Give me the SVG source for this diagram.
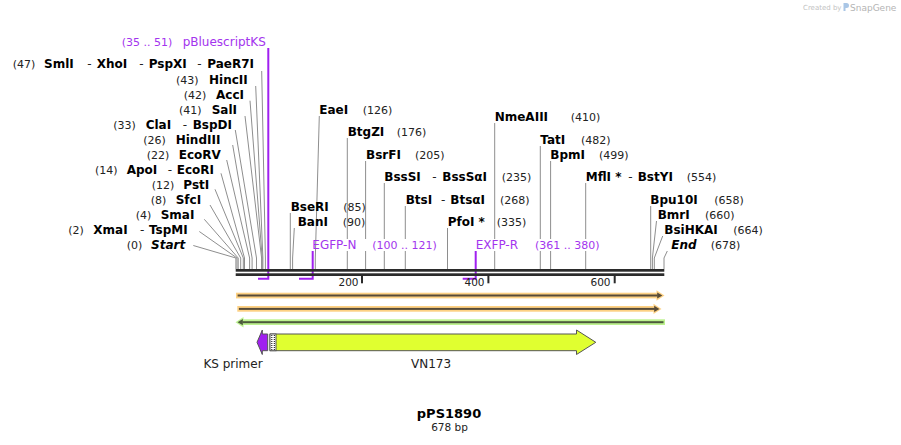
<svg xmlns="http://www.w3.org/2000/svg" width="901" height="445" viewBox="0 0 901 445">
<style>
text{font-family:"DejaVu Sans","Liberation Sans",sans-serif}
.n{font-size:12px;font-weight:bold;fill:#000}
.ni{font-size:12px;font-weight:bold;font-style:italic;fill:#000}
.p{font-size:11px;fill:#222}
.s{font-size:12px;fill:#222}
.f{font-size:12px;fill:#a334ee}
.fp{font-size:11px;fill:#a334ee}
.lbl{font-size:12px;fill:#222}
.tk{font-size:10.5px;fill:#222}
.cut{stroke:#8e8e8e;stroke-width:1;fill:none}
.fl{stroke:#a020f0;stroke-width:2;fill:none}
.bb{fill:#2b2b2b}
.ol{stroke:#555;stroke-width:1}
.bg{fill:#fff}
</style>
<rect width="901" height="445" fill="#fff"/>

<g id="watermark">
<text x="803" y="10" style="font-size:7px;fill:#c3c3c3">Created by</text>
<path d="M843.5,3 h3 a2.5,2.5 0 0 1 0,5 h-1 v3 h-2 z" fill="#a9c6e6"/>
<text x="850" y="10.5" style="font-size:9px;fill:#b4b4b4">SnapGene</text>
</g>

<g id="connectors">
<!-- left fan -->
<path class="cut" d="M261.7,71 L265.4,258 V269"/>
<path class="cut" d="M255.7,86 L262.9,258 V269"/>
<path class="cut" d="M250,100.7 L262.2,258 V269"/>
<path class="cut" d="M245,116 L261.6,258 V269"/>
<path class="cut" d="M235.3,130 L256.5,258 V269"/>
<path class="cut" d="M232.7,145 L252.1,258 V269"/>
<path class="cut" d="M226.7,160 L249.6,258 V269"/>
<path class="cut" d="M221,173.3 L244.5,258 V269"/>
<path class="cut" d="M215,189.3 L243.3,258 V269"/>
<path class="cut" d="M210,205 L240.7,258 V269"/>
<path class="cut" d="M204.3,219.3 L238.2,258 V269"/>
<path class="cut" d="M199.3,231.5 L237,258 V269"/>
<path class="cut" d="M193.3,245.5 L235.9,258 V269"/>
<!-- right -->
<path class="cut" d="M319.3,116 L315.3,258 V269"/>
<path class="cut" d="M347.3,138 V269"/>
<path class="cut" d="M365.6,161 V269"/>
<path class="cut" d="M384.3,183 V269"/>
<path class="cut" d="M405.3,206 V269"/>
<path class="cut" d="M447.5,228 V269"/>
<path class="cut" d="M290.3,213 V269"/>
<path class="cut" d="M294.3,228 L292.6,258 V269"/>
<path class="cut" d="M494.7,123 V269"/>
<path class="cut" d="M540.3,146 V269"/>
<path class="cut" d="M550.6,161 V269"/>
<path class="cut" d="M585.7,183 V269"/>
<path class="cut" d="M650.7,206 V269"/>
<path class="cut" d="M656.5,221 L652.4,258 V269"/>
<path class="cut" d="M662.7,236 L654.3,258 V269"/>
<path class="cut" d="M667.3,251 L664,258 V269"/>
<!-- primer feature leaders -->
<path class="fl" d="M268.3,48 V278.7 H258" stroke-width="1.6"/>
<path class="fl" d="M312.7,251 V278.7 H299"/>
<path class="fl" d="M475.7,251 V278.7 H462.7"/>
</g>

<g id="backbone">
<rect class="bb" x="235.7" y="269" width="428.6" height="2.7"/>
<rect class="bb" x="235.7" y="273.3" width="428.6" height="2.7"/>
<rect class="bb" x="361" y="276" width="2" height="7.3"/>
<rect class="bb" x="487.4" y="276" width="2" height="7.3"/>
<rect class="bb" x="613.7" y="276" width="2" height="7.3"/>
<text class="tk" x="358.5" y="286" text-anchor="end">200</text>
<text class="tk" x="484.5" y="286" text-anchor="end">400</text>
<text class="tk" x="610.5" y="286" text-anchor="end">600</text>
</g>

<!-- left enzyme labels -->
<g id="pBluescriptKS"><text x="121.7" y="46" class="fp">(35 .. 51)</text><text x="182.7" y="46" class="f">pBluescriptKS</text></g>
<g id="site47"><text y="68.3"><tspan class="p" x="12.7">(47)</tspan><tspan class="n" x="44">SmlI</tspan><tspan class="s" x="87.3">-</tspan><tspan class="n" x="96.7">XhoI</tspan><tspan class="s" x="139.3">-</tspan><tspan class="n" x="148.7">PspXI</tspan><tspan class="s" x="197.3">-</tspan><tspan class="n" x="207.3">PaeR7I</tspan></text></g>
<g id="site43"><text y="83.5"><tspan class="p" x="176">(43)</tspan><tspan class="n" x="209">HincII</tspan></text></g>
<g id="site42"><text y="98.5"><tspan class="p" x="183.7">(42)</tspan><tspan class="n" x="216">AccI</tspan></text></g>
<g id="site41"><text y="113.5"><tspan class="p" x="179">(41)</tspan><tspan class="n" x="211.7">SalI</tspan></text></g>
<g id="site33"><text y="128.5"><tspan class="p" x="113.3">(33)</tspan><tspan class="n" x="145.7">ClaI</tspan><tspan class="s" x="182.7">-</tspan><tspan class="n" x="192.7">BspDI</tspan></text></g>
<g id="site26"><text y="143.5"><tspan class="p" x="143.3">(26)</tspan><tspan class="n" x="175.7">HindIII</tspan></text></g>
<g id="site22"><text y="158.5"><tspan class="p" x="146.7">(22)</tspan><tspan class="n" x="178.7">EcoRV</tspan></text></g>
<g id="site14"><text y="173.5"><tspan class="p" x="95">(14)</tspan><tspan class="n" x="126.7">ApoI</tspan><tspan class="s" x="167.7">-</tspan><tspan class="n" x="176.7">EcoRI</tspan></text></g>
<g id="site12"><text y="188.5"><tspan class="p" x="151.7">(12)</tspan><tspan class="n" x="183.3">PstI</tspan></text></g>
<g id="site8"><text y="203.5"><tspan class="p" x="150.7">(8)</tspan><tspan class="n" x="175.7">SfcI</tspan></text></g>
<g id="site4"><text y="218.5"><tspan class="p" x="135.7">(4)</tspan><tspan class="n" x="160.7">SmaI</tspan></text></g>
<g id="site2"><text y="233.5"><tspan class="p" x="68.3">(2)</tspan><tspan class="n" x="93.3">XmaI</tspan><tspan class="s" x="140">-</tspan><tspan class="n" x="149">TspMI</tspan></text></g>
<g id="start"><text y="248.5"><tspan class="p" x="126.7">(0)</tspan><tspan class="ni" x="151">Start</tspan></text></g>

<!-- right enzyme labels -->
<g id="EaeI"><text y="113.5"><tspan class="n" x="319.3">EaeI</tspan><tspan class="p" x="362.7">(126)</tspan></text></g>
<g id="BtgZI"><text y="135.7"><tspan class="n" x="347.7">BtgZI</tspan><tspan class="p" x="396.7">(176)</tspan></text></g>
<g id="BsrFI"><text y="159"><tspan class="n" x="366">BsrFI</tspan><tspan class="p" x="415">(205)</tspan></text></g>
<g id="BssSI"><text y="181"><tspan class="n" x="384.3">BssSI</tspan><tspan class="s" x="432.3">-</tspan><tspan class="n" x="442.3">BssSαI</tspan><tspan class="p" x="501.7">(235)</tspan></text></g>
<g id="BtsI"><text y="204"><tspan class="n" x="405.7">BtsI</tspan><tspan class="s" x="441">-</tspan><tspan class="n" x="450.3">BtsαI</tspan><tspan class="p" x="500">(268)</tspan></text></g>
<g id="PfoI"><text y="226"><tspan class="n" x="447.7">PfoI *</tspan><tspan class="p" x="496.7">(335)</tspan></text></g>
<g id="BseRI"><text y="210.7"><tspan class="n" x="290.7">BseRI</tspan><tspan class="p" x="343.3">(85)</tspan></text></g>
<g id="BanI"><text y="226"><tspan class="n" x="297.7">BanI</tspan><tspan class="p" x="342.7">(90)</tspan></text></g>
<g id="EGFP-N"><rect class="bg" x="317" y="239" width="124" height="12"/><text y="249"><tspan class="f" x="312.3">EGFP-N</tspan><tspan class="fp" x="372.3">(100 .. 121)</tspan></text></g>
<g id="EXFP-R"><rect class="bg" x="474" y="239" width="130" height="12"/><text y="249"><tspan class="f" x="475.7">EXFP-R</tspan><tspan class="fp" x="535">(361 .. 380)</tspan></text></g>
<g id="NmeAIII"><text y="121"><tspan class="n" x="494.7">NmeAIII</tspan><tspan class="p" x="570.7">(410)</tspan></text></g>
<g id="TatI"><text y="144"><tspan class="n" x="540.3">TatI</tspan><tspan class="p" x="581">(482)</tspan></text></g>
<g id="BpmI"><text y="159"><tspan class="n" x="550.3">BpmI</tspan><tspan class="p" x="599">(499)</tspan></text></g>
<g id="MflI"><text y="181"><tspan class="n" x="585.7">MflI *</tspan><tspan class="s" x="628.3">-</tspan><tspan class="n" x="637.7">BstYI</tspan><tspan class="p" x="686.7">(554)</tspan></text></g>
<g id="Bpu10I"><text y="204"><tspan class="n" x="650.3">Bpu10I</tspan><tspan class="p" x="714.3">(658)</tspan></text></g>
<g id="BmrI"><text y="219"><tspan class="n" x="657.7">BmrI</tspan><tspan class="p" x="705">(660)</tspan></text></g>
<g id="BsiHKAI"><text y="234"><tspan class="n" x="664.3">BsiHKAI</tspan><tspan class="p" x="733.3">(664)</tspan></text></g>
<g id="end"><text y="249"><tspan class="ni" x="671.3">End</tspan><tspan class="p" x="710.7">(678)</tspan></text></g>

<!-- ORF / feature tracks -->
<g id="orf1">
<rect x="236" y="292.7" width="421" height="5.7" fill="#fdd184"/>
<polygon points="656.5,290.3 664.5,295.5 656.5,300.7" fill="#fdd184"/>
<rect x="237.6" y="294.5" width="420" height="2" fill="#574b38"/>
<polygon points="657.2,292.4 662.4,295.5 657.2,298.6" fill="#574b38"/>
</g>
<g id="orf2">
<rect x="237.3" y="306" width="417" height="5.7" fill="#fdd184"/>
<polygon points="653.5,303.7 661.5,308.9 653.5,314.1" fill="#fdd184"/>
<rect x="238.9" y="307.9" width="416" height="2" fill="#574b38"/>
<polygon points="654.2,305.8 659.4,308.9 654.2,312" fill="#574b38"/>
</g>
<g id="orf3">
<rect x="243" y="319.3" width="422" height="5.7" fill="#bdf28f"/>
<polygon points="243.5,317 235.5,322.2 243.5,327.4" fill="#bdf28f"/>
<rect x="242.5" y="321.2" width="421" height="2" fill="#4c5a3c"/>
<polygon points="242.8,319.1 237.6,322.2 242.8,325.3" fill="#4c5a3c"/>
</g>

<g id="KS-primer">
<polygon class="ol" points="267.7,334 262.3,334 262.3,330 257,342.3 262.3,354.5 262.3,350.7 267.7,350.7" fill="#a020f0"/>
<text class="lbl" x="233" y="368" text-anchor="middle">KS primer</text>
</g>

<g id="VN173">
<polygon class="ol" points="270,334 576.5,334 576.5,330 595.8,342.3 576.5,354.5 576.5,350.7 270,350.7" fill="#e0ff30"/>
<rect x="270" y="334" width="6" height="16.7" fill="#fff" class="ol"/>
<path d="M271.8,335 V350 M274.3,335 V350" stroke="#000" stroke-width="1" stroke-dasharray="1 1"/>
<text class="lbl" x="431" y="368" text-anchor="middle">VN173</text>
</g>

<g id="title">
<text x="449" y="418" text-anchor="middle" style="font-size:13px;font-weight:bold;fill:#000">pPS1890</text>
<text x="449.5" y="431" text-anchor="middle" style="font-size:10.5px;fill:#222">678 bp</text>
</g>
</svg>
